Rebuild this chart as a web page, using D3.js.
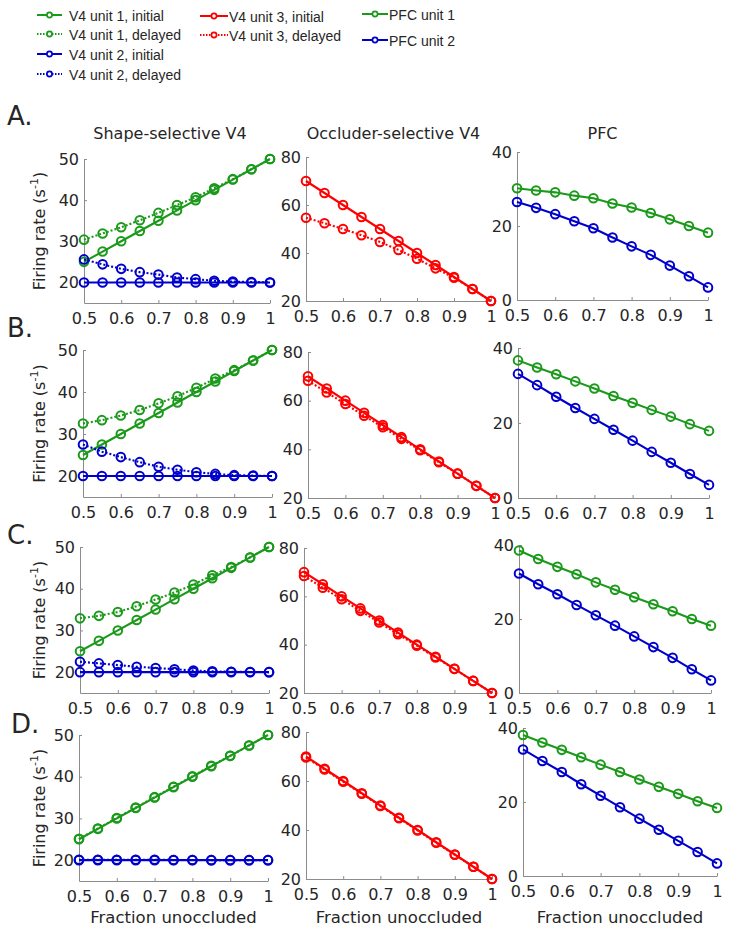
<!DOCTYPE html>
<html>
<head>
<meta charset="utf-8"/>
<script src="https://cdn.jsdelivr.net/npm/d3@7"></script>
<style>
html, body {
  margin: 0;
  padding: 0;
  background: #fff;
}
svg text {
  font-family: "DejaVu Sans", sans-serif;
  fill: #262626;
}
.legend text {
  font-family: "Liberation Sans", Arial, sans-serif;
  font-size: 14px;
}
.axis path, .axis line {
  stroke: #8c8c8c;
  stroke-width: 1;
}
.axis text {
  font-family: "DejaVu Sans", sans-serif;
  font-size: 16px;
  fill: #262626;
}
.series {
  fill: none;
  stroke-width: 2.1;
  stroke-linejoin: round;
}
.marker {
  fill: none;
  stroke-width: 2;
}
</style>
</head>
<body>
<svg id="fig" width="729" height="931"></svg>

<script type="text/javascript">

// ---- data ----
var fractions = [0.5, 0.55, 0.6, 0.65, 0.7, 0.75, 0.8, 0.85, 0.9, 0.95, 1];
var xTicks = [0.5, 0.6, 0.7, 0.8, 0.9, 1];
var rowLetters = ["A.", "B.", "C.", "D."];
var colTitles = ["Shape-selective V4", "Occluder-selective V4", "PFC"];
var yLabel = "Firing rate (s";
var xLabel = "Fraction unoccluded";

var yDomains = [[15, 50], [20, 80], [0, 40]];
var yTicks = [[20, 30, 40, 50], [20, 40, 60, 80], [0, 20, 40]];

// V4 unit 1 (shape), rows A-D
var v4u1Initial = [25, 27.5, 30, 32.5, 35, 37.5, 40, 42.5, 45, 47.5, 50];
var v4u1Delayed = [
  [30.4, 31.9, 33.4, 35.1, 36.9, 38.8, 40.7, 42.9, 45.1, 47.5, 50],
  [32.5, 33.3, 34.4, 35.7, 37.3, 39.0, 41.0, 43.2, 45.2, 47.5, 50],
  [32.9, 33.5, 34.4, 35.8, 37.4, 39.1, 41.0, 43.2, 45.2, 47.5, 50],
  [25.1, 27.6, 30.1, 32.6, 35.1, 37.6, 40.1, 42.6, 45.0, 47.5, 50]
];
// V4 unit 2 (shape)
var v4u2Initial = [20, 20, 20, 20, 20, 20, 20, 20, 20, 20, 20];
var v4u2Delayed = [
  [25.6, 24.4, 23.3, 22.5, 21.9, 21.2, 20.8, 20.4, 20.2, 20.1, 20],
  [27.5, 25.8, 24.5, 23.3, 22.2, 21.5, 20.9, 20.5, 20.2, 20.1, 20],
  [22.5, 22.1, 21.7, 21.3, 21.0, 20.7, 20.4, 20.2, 20.1, 20.05, 20],
  [20.1, 20.1, 20.1, 20.1, 20.1, 20.05, 20.05, 20, 20, 20, 20]
];
// V4 unit 3 (occluder)
var v4u3Initial = [70, 65, 60, 55, 50, 45, 40, 35, 30, 25, 20];
var v4u3Delayed = [
  [54.7, 52.4, 50.0, 47.4, 44.6, 41.3, 37.6, 33.6, 29.7, 25, 20],
  [68.2, 63.4, 58.6, 53.8, 49.1, 44.3, 39.6, 34.7, 30, 25, 20],
  [68.4, 63.6, 58.8, 54.0, 49.2, 44.3, 39.6, 34.7, 30, 25, 20],
  [69.6, 64.7, 59.7, 54.8, 49.8, 44.8, 39.8, 34.8, 29.9, 25, 20]
];
// PFC
var pfcUnit1 = [
  [30.2, 29.6, 29.1, 28.2, 27.5, 26.1, 25.0, 23.5, 21.8, 20.0, 18.2],
  [36.7, 34.8, 33.0, 31.1, 29.2, 27.2, 25.4, 23.5, 21.7, 19.7, 17.9],
  [38.5, 36.2, 34.1, 32.1, 29.9, 27.9, 25.9, 24.0, 22.1, 20.0, 18.2],
  [38.1, 36.1, 34.1, 32.1, 30.1, 28.1, 26.1, 24.1, 22.2, 20.2, 18.4]
];
var pfcUnit2 = [
  [26.5, 24.9, 23.2, 21.3, 19.4, 16.9, 14.5, 12.2, 9.3, 6.4, 3.4],
  [33.1, 30.1, 27.0, 24.0, 21.1, 18.2, 15.3, 12.3, 9.4, 6.4, 3.5],
  [32.3, 29.4, 26.7, 23.8, 21.0, 18.2, 15.3, 12.4, 9.5, 6.4, 3.4],
  [34.2, 31.1, 28.1, 24.8, 21.7, 18.6, 15.5, 12.5, 9.5, 6.5, 3.4]
];

var legendLabels = [
  ["V4 unit 1, initial", "V4 unit 1, delayed", "V4 unit 2, initial", "V4 unit 2, delayed"],
  ["V4 unit 3, initial", "V4 unit 3, delayed"],
  ["PFC unit 1", "PFC unit 2"]
];

// ---- layout ----
var GREEN = "#1a991a", BLUE = "#0000cc", RED = "#ff0000";

// [left, right, top, bottom] for each panel
var boxes = [
  [[84, 270, 159, 303], [306, 491, 157, 301], [517, 708, 152, 300]],
  [[83, 272, 350, 497], [308, 495, 352, 498], [518, 709, 348, 498]],
  [[80, 269, 547, 693], [304, 492, 548, 693], [519, 711, 545, 693]],
  [[79, 268, 735, 881], [306, 492, 732, 879], [523, 717, 728, 876]]
];
var letterPos = [[7, 125], [7, 337], [7, 544], [11, 733]];

var svg = d3.select("#fig");

//---------------------------------------
// legend
var legendCols = [
  {x0: 37, x1: 62, tx: 69, ys: [15, 34, 54, 74], colors: [GREEN, GREEN, BLUE, BLUE], dash: [false, true, false, true]},
  {x0: 200, x1: 228, tx: 229, ys: [16, 35], colors: [RED, RED], dash: [false, true]},
  {x0: 362, x1: 388, tx: 389, ys: [14, 40], colors: [GREEN, BLUE], dash: [false, false]}
];
var leg = svg.append("g").attr("class", "legend");
legendCols.forEach(function(col, ci) {
  legendLabels[ci].forEach(function(label, i) {
    var y = col.ys[i];
    leg.append("line")
      .attr("x1", col.x0).attr("x2", col.x1)
      .attr("y1", y).attr("y2", y)
      .attr("stroke", col.colors[i])
      .attr("stroke-width", 2)
      .attr("stroke-dasharray", col.dash[i] ? "1.5,1.5" : null);
    leg.append("circle")
      .attr("cx", (col.x0 + col.x1) / 2).attr("cy", y).attr("r", 2.6)
      .attr("fill", "#fff")
      .attr("stroke", col.colors[i])
      .attr("stroke-width", 1.7);
    leg.append("text")
      .attr("x", col.tx).attr("y", y + 5.5)
      .text(label);
  });
});

//---------------------------------------
// panels
var line = d3.line();
var titleShift = [-7, -5, -10];
var fmtX = function(d) { return d === 1 ? "1" : d3.format(".1f")(d); };

rowLetters.forEach(function(letter, r) {

  svg.append("text")
    .attr("x", letterPos[r][0])
    .attr("y", letterPos[r][1])
    .attr("font-size", 26)
    .text(letter);

  boxes[r].forEach(function(box, c) {
    var x = d3.scaleLinear().domain([0.5, 1]).range([box[0], box[1]]);
    var y = d3.scaleLinear().domain(yDomains[c]).range([box[3], box[2]]);
    var g = svg.append("g");

    if (r === 0) {
      g.append("text")
        .attr("x", (box[0] + box[1]) / 2 + titleShift[c])
        .attr("y", 139)
        .attr("text-anchor", "middle")
        .attr("font-size", 16)
        .text(colTitles[c]);
    }

    g.append("g")
      .attr("class", "axis")
      .attr("transform", "translate(0," + box[3] + ")")
      .call(d3.axisBottom(x).tickValues(xTicks).tickFormat(fmtX)
        .tickSizeInner(-3).tickSizeOuter(0).tickPadding(10));

    g.append("g")
      .attr("class", "axis")
      .attr("transform", "translate(" + box[0] + ",0)")
      .call(d3.axisLeft(y).tickValues(yTicks[c]).tickFormat(d3.format("d"))
        .tickSizeInner(-3).tickSizeOuter(0).tickPadding(5));

    if (c === 0) {
      var yl = g.append("text")
        .attr("transform", "translate(45," + ((box[2] + box[3]) / 2) + ") rotate(-90)")
        .attr("text-anchor", "middle")
        .attr("font-size", 16);
      yl.append("tspan").text(yLabel);
      yl.append("tspan").attr("font-size", 11).attr("dy", -7).text("-1");
      yl.append("tspan").attr("dy", 7).text(")");
    }
    if (r === 3) {
      g.append("text")
        .attr("x", (box[0] + box[1]) / 2)
        .attr("y", 923)
        .attr("text-anchor", "middle")
        .attr("font-size", 16.5)
        .text(xLabel);
    }

    var series;
    if (c === 0) {
      series = [
        {v: v4u1Initial, color: GREEN, dotted: false},
        {v: v4u1Delayed[r], color: GREEN, dotted: true},
        {v: v4u2Initial, color: BLUE, dotted: false},
        {v: v4u2Delayed[r], color: BLUE, dotted: true}
      ];
    } else if (c === 1) {
      series = [
        {v: v4u3Initial, color: RED, dotted: false},
        {v: v4u3Delayed[r], color: RED, dotted: true}
      ];
    } else {
      series = [
        {v: pfcUnit1[r], color: GREEN, dotted: false},
        {v: pfcUnit2[r], color: BLUE, dotted: false}
      ];
    }

    series.forEach(function(s) {
      var pts = fractions.map(function(f, i) { return [x(f), y(s.v[i])]; });
      g.append("path")
        .attr("class", "series")
        .attr("d", line(pts))
        .attr("stroke", s.color)
        .attr("stroke-dasharray", s.dotted ? "2,2" : null);
      g.selectAll(null)
        .data(pts)
        .enter().append("circle")
        .attr("class", "marker")
        .attr("cx", function(d) { return d[0]; })
        .attr("cy", function(d) { return d[1]; })
        .attr("r", 4.3)
        .attr("stroke", s.color);
    });
  });
});

</script>
</body>
</html>
